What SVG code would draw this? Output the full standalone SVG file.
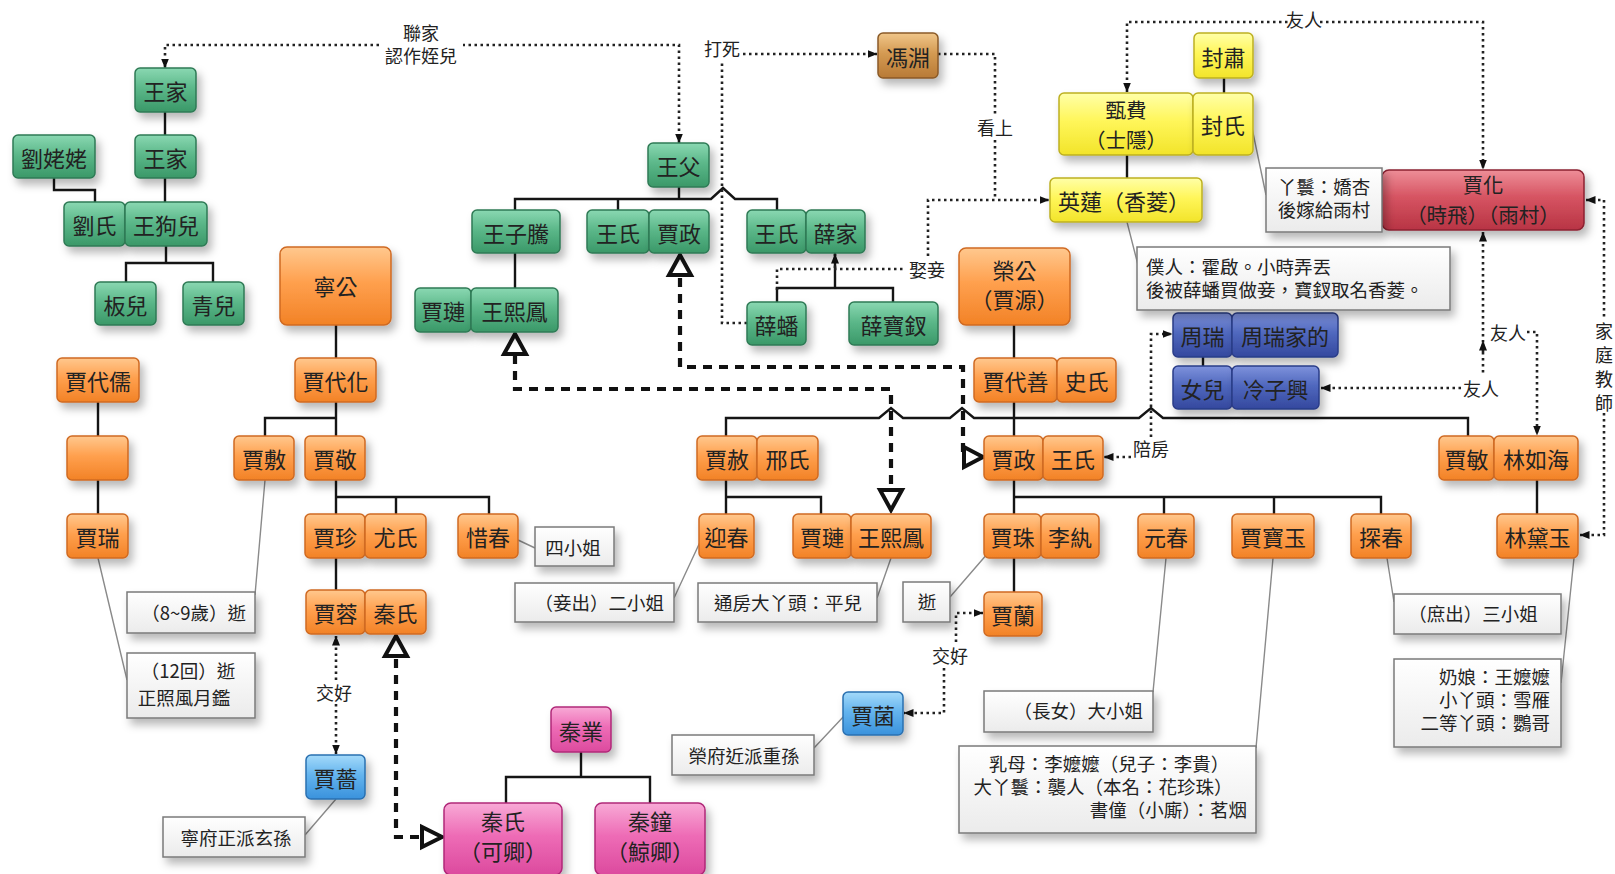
<svg xmlns="http://www.w3.org/2000/svg" width="1615" height="874" viewBox="0 0 1615 874">
<style>
text{font-family:"Noto Sans CJK TC","Noto Sans CJK SC",sans-serif;fill:#222;text-anchor:middle;dominant-baseline:central}
.nd rect{stroke-width:1.5;filter:url(#sh)}
.nd text{font-size:22px}
.g rect{fill:url(#gG);stroke:#2f7a55}
.o rect{fill:url(#gO);stroke:#cf6a22}
.y rect{fill:url(#gY);stroke:#bdb022}
.b rect{fill:url(#gB);stroke:#2a3c88}
.l rect{fill:url(#gL);stroke:#2a70b0}
.p rect{fill:url(#gP);stroke:#b02878}
.r rect{fill:url(#gR);stroke:#8c2030}
.w rect{fill:url(#gN);stroke:#8a5a28}
.nt rect{fill:url(#gW);stroke:#7a7a7a;stroke-width:1.5;filter:url(#sh)}
.nt text{font-size:18.5px}
.sl{fill:none;stroke:#151515;stroke-width:2.4}
.dt{fill:none;stroke:#222;stroke-width:2.6;stroke-dasharray:2.5 3.5}
.tk{fill:none;stroke:#111;stroke-width:4.2;stroke-dasharray:9 7}
.tri{fill:#fff;stroke:#111;stroke-width:4}
.cn{fill:none;stroke:#8a8a8a;stroke-width:1.4}
.lb{font-size:18px}
.nd text.s{font-size:20.5px}
</style>
<defs>
<filter id="sh" x="-20%" y="-20%" width="150%" height="170%"><feDropShadow dx="4" dy="6" stdDeviation="4" flood-color="#000" flood-opacity="0.28"/></filter>
<linearGradient id="gG" x1="0" y1="0" x2="0" y2="1"><stop offset="0" stop-color="#8ad8b2"/><stop offset="0.45" stop-color="#5cb88a"/><stop offset="1" stop-color="#3a9868"/></linearGradient>
<linearGradient id="gO" x1="0" y1="0" x2="0" y2="1"><stop offset="0" stop-color="#ffc88e"/><stop offset="0.45" stop-color="#ffa04e"/><stop offset="1" stop-color="#f28226"/></linearGradient>
<linearGradient id="gY" x1="0" y1="0" x2="0" y2="1"><stop offset="0" stop-color="#ffffa8"/><stop offset="0.45" stop-color="#fff65a"/><stop offset="1" stop-color="#f2e42a"/></linearGradient>
<linearGradient id="gB" x1="0" y1="0" x2="0" y2="1"><stop offset="0" stop-color="#7e92dc"/><stop offset="0.45" stop-color="#5068be"/><stop offset="1" stop-color="#34489e"/></linearGradient>
<linearGradient id="gL" x1="0" y1="0" x2="0" y2="1"><stop offset="0" stop-color="#a4dafa"/><stop offset="0.45" stop-color="#64b4ee"/><stop offset="1" stop-color="#3a92dc"/></linearGradient>
<linearGradient id="gP" x1="0" y1="0" x2="0" y2="1"><stop offset="0" stop-color="#f8aad6"/><stop offset="0.45" stop-color="#ee6cb6"/><stop offset="1" stop-color="#dc4a9e"/></linearGradient>
<linearGradient id="gR" x1="0" y1="0" x2="0" y2="1"><stop offset="0" stop-color="#ee8e98"/><stop offset="0.45" stop-color="#d65462"/><stop offset="1" stop-color="#b83444"/></linearGradient>
<linearGradient id="gN" x1="0" y1="0" x2="0" y2="1"><stop offset="0" stop-color="#f0c68a"/><stop offset="0.45" stop-color="#d49a52"/><stop offset="1" stop-color="#b87a36"/></linearGradient>
<linearGradient id="gW" x1="0" y1="0" x2="0" y2="1"><stop offset="0" stop-color="#ffffff"/><stop offset="1" stop-color="#ebebeb"/></linearGradient>
<marker id="ah" viewBox="0 0 10 10" refX="9.5" refY="5" markerWidth="10" markerHeight="10" markerUnits="userSpaceOnUse" orient="auto-start-reverse"><path d="M0,1 L10,5 L0,9 z" fill="#111"/></marker>
</defs>
<rect width="1615" height="874" fill="#fff"/>

<g id="connectors">
<!-- solid family lines -->
<path class="sl" d="M165,112 V135 M165,178 V202 M54,178 V190 H95 V202 M166,246 V263 M126,282 V263 H213 V282"/>
<path class="sl" d="M679,187 V199 M515,210 V199 H711 L723,188 L735,199 H777 V210 M618,199 V210"/>
<path class="sl" d="M515,253 V288 M835,253 V288 M777,302 V288 H893 V302"/>
<path class="sl" d="M1127,155 V178 M1224,78 V93"/>
<path class="sl" d="M336,325 V358 M336,402 V436 M265,436 V418 H336 M98,402 V436 M98,480 V514"/>
<path class="sl" d="M336,480 V514 M336,497 H489 V514 M396,497 V514 M336,558 V590"/>
<path class="sl" d="M1014,325 V358 M1014,402 V436 M726,436 V418 H879 L891,408 L903,418 H950 L962,408 L974,418 H1139 L1151,408 L1163,418 H1468 V436"/>
<path class="sl" d="M726,480 V514 M726,497 H821 V514"/>
<path class="sl" d="M1014,480 V514 M1014,497 H1381 V514 M1164,497 V514 M1274,497 V514 M1014,558 V592"/>
<path class="sl" d="M1537,480 V514 M1203,357 V366"/>
<path class="sl" d="M581,752 V777 M506,803 V777 H650 V803"/>
<!-- note connectors -->
<path class="cn" d="M265,480 L255,595 M98,558 L127,680 M518,540 L535,548 M701,540 L674,598 M891,558 L877,598 M988,553 L950,597 M336,799 L305,835 M845,715 L814,748 M1166,558 L1153,692 M1273,558 L1256,748 M1387,558 L1394,602 M1574,558 L1561,683 M1252,128 L1266,195 M1127,222 L1138,265"/>
<!-- dotted relations -->
<path class="dt" d="M679,143 V45 H463" marker-start="url(#ah)"/>
<path class="dt" d="M379,45 H165 V68" marker-end="url(#ah)"/>
<path class="dt" d="M747,323 H722 V60"/>
<path class="dt" d="M743,54 H877" marker-end="url(#ah)"/>
<path class="dt" d="M938,54 H995 V114 M995,140 V200"/>
<path class="dt" d="M928,256 V200 H1049" marker-end="url(#ah)"/>
<path class="dt" d="M777,290 V269 H906"/>
<path class="dt" d="M835,268 V254" marker-end="url(#ah)"/>
<path class="dt" d="M1127,92 V22 H1288" marker-start="url(#ah)"/>
<path class="dt" d="M1320,22 H1483 V169" marker-end="url(#ah)"/>
<path class="dt" d="M1483,232 V374" marker-start="url(#ah)"/>
<path class="dt" d="M1461,388 H1321" marker-end="url(#ah)"/>
<path class="dt" d="M1483,352 V341" marker-end="url(#ah)"/>
<path class="dt" d="M1527,332 H1537 V435" marker-end="url(#ah)"/>
<path class="dt" d="M1586,200 H1604 V318" marker-start="url(#ah)"/>
<path class="dt" d="M1604,413 V535 H1580" marker-end="url(#ah)"/>
<path class="dt" d="M1151,437 V334 H1172" marker-end="url(#ah)"/>
<path class="dt" d="M1131,457 H1104" marker-end="url(#ah)"/>
<path class="dt" d="M336,680 V636" marker-end="url(#ah)"/>
<path class="dt" d="M336,704 V754" marker-end="url(#ah)"/>
<path class="dt" d="M956,642 V613 H983" marker-end="url(#ah)"/>
<path class="dt" d="M944,668 V713 H904" marker-end="url(#ah)"/>
<!-- thick dashed -->
<path class="tk" d="M515,355 V389 H891 V489"/>
<path class="tk" d="M680,278 V367 H963 V457"/>
<path class="tk" d="M396,659 V837 H421"/>
<polygon class="tri" points="515,334 504,354 526,354"/>
<polygon class="tri" points="880,490 902,490 891,510"/>
<polygon class="tri" points="680,255 669,275 691,275"/>
<polygon class="tri" points="964,447 964,467 983,457"/>
<polygon class="tri" points="396,636 385,656 407,656"/>
<polygon class="tri" points="422,827 422,847 442,837"/>
<!-- labels -->
<text class="lb" x="421" y="32">聯家</text>
<text class="lb" x="421" y="55">認作姪兒</text>
<text class="lb" x="722" y="48">打死</text>
<text class="lb" x="995" y="127">看上</text>
<text class="lb" x="927" y="269">娶妾</text>
<text class="lb" x="1304" y="19">友人</text>
<text class="lb" x="1481" y="388">友人</text>
<text class="lb" x="1508" y="332">友人</text>
<text class="lb" x="1151" y="448">陪房</text>
<text class="lb" x="334" y="692">交好</text>
<text class="lb" x="950" y="655">交好</text>
<text class="lb" x="1604" y="330">家</text>
<text class="lb" x="1604" y="354">庭</text>
<text class="lb" x="1604" y="378">教</text>
<text class="lb" x="1604" y="402">師</text>
</g>

<!-- green: 王家 / 薛家 -->
<g id="n-wangjia1" class="nd g"><rect x="135" y="68" width="61" height="44" rx="5"/><text x="165.5" y="90">王家</text></g>
<g id="n-wangjia2" class="nd g"><rect x="135" y="135" width="61" height="43" rx="5"/><text x="165.5" y="156.5">王家</text></g>
<g id="n-liulaolao" class="nd g"><rect x="13" y="135" width="82" height="43" rx="5"/><text x="54" y="156.5">劉姥姥</text></g>
<g id="n-liushi" class="nd g"><rect x="64" y="202" width="61" height="44" rx="5"/><text x="94.5" y="224">劉氏</text></g>
<g id="n-wanggouer" class="nd g"><rect x="125" y="202" width="82" height="44" rx="5"/><text x="166" y="224">王狗兒</text></g>
<g id="n-baner" class="nd g"><rect x="95" y="282" width="61" height="43" rx="5"/><text x="125.5" y="303.5">板兒</text></g>
<g id="n-qinger" class="nd g"><rect x="183" y="282" width="61" height="43" rx="5"/><text x="213.5" y="303.5">青兒</text></g>
<g id="n-wangfu" class="nd g"><rect x="648" y="143" width="61" height="44" rx="5"/><text x="678.5" y="165">王父</text></g>
<g id="n-wangziteng" class="nd g"><rect x="472" y="210" width="88" height="43" rx="5"/><text x="516" y="231.5">王子騰</text></g>
<g id="n-wangshi-g1" class="nd g"><rect x="587" y="210" width="62" height="43" rx="5"/><text x="618" y="231.5">王氏</text></g>
<g id="n-jiazheng-g" class="nd g"><rect x="649" y="210" width="60" height="43" rx="5"/><text x="679" y="231.5">賈政</text></g>
<g id="n-wangshi-g2" class="nd g"><rect x="747" y="210" width="59" height="43" rx="5"/><text x="776.5" y="231.5">王氏</text></g>
<g id="n-xuejia" class="nd g"><rect x="806" y="210" width="59" height="43" rx="5"/><text x="835.5" y="231.5">薛家</text></g>
<g id="n-jialian-g" class="nd g"><rect x="415" y="288" width="56" height="44" rx="5"/><text x="443" y="310">賈璉</text></g>
<g id="n-wangxifeng-g" class="nd g"><rect x="471" y="288" width="87" height="44" rx="5"/><text x="514.5" y="310">王熙鳳</text></g>
<g id="n-xuepan" class="nd g"><rect x="747" y="302" width="59" height="43" rx="5"/><text x="776.5" y="323.5">薛蟠</text></g>
<g id="n-xuebaochai" class="nd g"><rect x="849" y="302" width="89" height="43" rx="5"/><text x="893.5" y="323.5">薛寶釵</text></g>

<!-- brown -->
<g id="n-fengyuan" class="nd w"><rect x="878" y="33" width="60" height="45" rx="5"/><text x="908" y="55.5">馮淵</text></g>

<!-- yellow -->
<g id="n-fengsu" class="nd y"><rect x="1194" y="33" width="59" height="45" rx="5"/><text x="1223.5" y="55.5">封肅</text></g>
<g id="n-zhenfei" class="nd y"><rect x="1059" y="93" width="134" height="62" rx="5"/><text class="s" x="1126" y="109">甄費</text><text class="s" x="1126" y="139">（士隱）</text></g>
<g id="n-fengshi" class="nd y"><rect x="1193" y="93" width="60" height="62" rx="5"/><text x="1223" y="124">封氏</text></g>
<g id="n-yinglian" class="nd y"><rect x="1050" y="178" width="152" height="44" rx="5"/><text x="1124" y="200">英蓮（香菱）</text></g>

<!-- red -->
<g id="n-jiahua" class="nd r"><rect x="1382" y="170" width="202" height="60" rx="7"/><text class="s" x="1483" y="184" fill="#3a1212">賈化</text><text class="s" x="1483" y="214" fill="#3a1212">（時飛）（雨村）</text></g>

<!-- orange: 寧府 -->
<g id="n-ninggong" class="nd o"><rect x="280" y="247" width="111" height="78" rx="7"/><text x="335.5" y="285">寧公</text></g>
<g id="n-jiadairu" class="nd o"><rect x="57" y="358" width="82" height="44" rx="5"/><text x="98" y="380">賈代儒</text></g>
<g id="n-blank" class="nd o"><rect x="67" y="436" width="61" height="44" rx="5"/></g>
<g id="n-jiarui" class="nd o"><rect x="67" y="514" width="61" height="44" rx="5"/><text x="97.5" y="536">賈瑞</text></g>
<g id="n-jiadaihua" class="nd o"><rect x="295" y="358" width="81" height="44" rx="5"/><text x="335.5" y="380">賈代化</text></g>
<g id="n-jiafu" class="nd o"><rect x="234" y="436" width="60" height="44" rx="5"/><text x="264" y="458">賈敷</text></g>
<g id="n-jiajing" class="nd o"><rect x="305" y="436" width="60" height="44" rx="5"/><text x="335" y="458">賈敬</text></g>
<g id="n-jiazhen" class="nd o"><rect x="305" y="514" width="60" height="44" rx="5"/><text x="335" y="536">賈珍</text></g>
<g id="n-youshi" class="nd o"><rect x="365" y="514" width="61" height="44" rx="5"/><text x="395.5" y="536">尤氏</text></g>
<g id="n-xichun" class="nd o"><rect x="458" y="514" width="60" height="44" rx="5"/><text x="488" y="536">惜春</text></g>
<g id="n-jiarong" class="nd o"><rect x="306" y="590" width="59" height="44" rx="5"/><text x="335.5" y="612">賈蓉</text></g>
<g id="n-qinshi-o" class="nd o"><rect x="365" y="590" width="61" height="44" rx="5"/><text x="395.5" y="612">秦氏</text></g>

<!-- orange: 榮府 -->
<g id="n-ronggong" class="nd o"><rect x="959" y="248" width="111" height="77" rx="7"/><text x="1014.5" y="269">榮公</text><text x="1014.5" y="298">（賈源）</text></g>
<g id="n-jiadaishan" class="nd o"><rect x="974" y="358" width="83" height="44" rx="5"/><text x="1015.5" y="380">賈代善</text></g>
<g id="n-shishi" class="nd o"><rect x="1057" y="358" width="59" height="44" rx="5"/><text x="1086.5" y="380">史氏</text></g>
<g id="n-jiashe" class="nd o"><rect x="697" y="436" width="60" height="44" rx="5"/><text x="727" y="458">賈赦</text></g>
<g id="n-xingshi" class="nd o"><rect x="757" y="436" width="61" height="44" rx="5"/><text x="787.5" y="458">邢氏</text></g>
<g id="n-jiazheng" class="nd o"><rect x="984" y="436" width="59" height="44" rx="5"/><text x="1013.5" y="458">賈政</text></g>
<g id="n-wangshi" class="nd o"><rect x="1043" y="436" width="60" height="44" rx="5"/><text x="1073" y="458">王氏</text></g>
<g id="n-jiamin" class="nd o"><rect x="1439" y="436" width="55" height="44" rx="5"/><text x="1466.5" y="458">賈敏</text></g>
<g id="n-linruhai" class="nd o"><rect x="1494" y="436" width="84" height="44" rx="5"/><text x="1536" y="458">林如海</text></g>
<g id="n-yingchun" class="nd o"><rect x="699" y="514" width="55" height="44" rx="5"/><text x="726.5" y="536">迎春</text></g>
<g id="n-jialian" class="nd o"><rect x="793" y="514" width="58" height="44" rx="5"/><text x="822" y="536">賈璉</text></g>
<g id="n-wangxifeng" class="nd o"><rect x="851" y="514" width="80" height="44" rx="5"/><text x="891" y="536">王熙鳳</text></g>
<g id="n-jiazhu" class="nd o"><rect x="984" y="514" width="57" height="44" rx="5"/><text x="1012.5" y="536">賈珠</text></g>
<g id="n-liwan" class="nd o"><rect x="1041" y="514" width="58" height="44" rx="5"/><text x="1070" y="536">李紈</text></g>
<g id="n-yuanchun" class="nd o"><rect x="1138" y="514" width="56" height="44" rx="5"/><text x="1166" y="536">元春</text></g>
<g id="n-jiabaoyu" class="nd o"><rect x="1232" y="514" width="82" height="44" rx="5"/><text x="1273" y="536">賈寶玉</text></g>
<g id="n-tanchun" class="nd o"><rect x="1351" y="514" width="60" height="44" rx="5"/><text x="1381" y="536">探春</text></g>
<g id="n-lindaiyu" class="nd o"><rect x="1497" y="514" width="81" height="44" rx="5"/><text x="1537.5" y="536">林黛玉</text></g>
<g id="n-jialan" class="nd o"><rect x="984" y="592" width="58" height="44" rx="5"/><text x="1013" y="614">賈蘭</text></g>

<!-- blue -->
<g id="n-zhourui" class="nd b"><rect x="1173" y="313" width="59" height="44" rx="5"/><text x="1202.5" y="335" fill="#1c2450">周瑞</text></g>
<g id="n-zhouruijia" class="nd b"><rect x="1232" y="313" width="106" height="44" rx="5"/><text x="1285" y="335" fill="#1c2450">周瑞家的</text></g>
<g id="n-nver" class="nd b"><rect x="1173" y="366" width="59" height="43" rx="5"/><text x="1202.5" y="387.5" fill="#1c2450">女兒</text></g>
<g id="n-lengzixing" class="nd b"><rect x="1232" y="366" width="87" height="43" rx="5"/><text x="1275.5" y="387.5" fill="#1c2450">冷子興</text></g>

<!-- light blue -->
<g id="n-jiaqiang" class="nd l"><rect x="306" y="755" width="59" height="44" rx="5"/><text x="335.5" y="777" fill="#14304a">賈薔</text></g>
<g id="n-jiajun" class="nd l"><rect x="843" y="692" width="60" height="43" rx="5"/><text x="873" y="713.5" fill="#14304a">賈菌</text></g>

<!-- pink -->
<g id="n-qinye" class="nd p"><rect x="551" y="707" width="60" height="45" rx="5"/><text x="581" y="729.5">秦業</text></g>
<g id="n-qinshi-p" class="nd p"><rect x="444" y="803" width="118" height="72" rx="7"/><text x="503" y="820">秦氏</text><text x="503" y="850">（可卿）</text></g>
<g id="n-qinzhong" class="nd p"><rect x="595" y="803" width="110" height="72" rx="7"/><text x="650" y="820">秦鐘</text><text x="650" y="850">（鯨卿）</text></g>

<!-- notes -->
<g id="note-sixiaojie" class="nt"><rect x="535" y="527" width="79" height="39"/><text x="573" y="547">四小姐</text></g>
<g id="note-jiafu" class="nt"><rect x="127" y="592" width="128" height="41"/><text x="246" y="612" style="text-anchor:end">（8~9歲）逝</text></g>
<g id="note-jiarui" class="nt"><rect x="127" y="653" width="128" height="65"/><text x="188" y="670">（12回）逝</text><text x="184" y="697">正照風月鑑</text></g>
<g id="note-yingchun" class="nt"><rect x="515" y="583" width="159" height="39"/><text x="664" y="602" style="text-anchor:end">（妾出）二小姐</text></g>
<g id="note-pinger" class="nt"><rect x="698" y="583" width="179" height="39"/><text x="788" y="602">通房大丫頭：平兒</text></g>
<g id="note-jiazhu" class="nt"><rect x="903" y="582" width="47" height="40"/><text x="927" y="601">逝</text></g>
<g id="note-jiaqiang" class="nt"><rect x="163" y="817" width="142" height="40"/><text x="236" y="837">寧府正派玄孫</text></g>
<g id="note-jiajun" class="nt"><rect x="672" y="735" width="142" height="40"/><text x="744" y="755">榮府近派重孫</text></g>
<g id="note-yuanchun" class="nt"><rect x="984" y="691" width="169" height="41"/><text x="1143" y="710" style="text-anchor:end">（長女）大小姐</text></g>
<g id="note-baoyu" class="nt"><rect x="959" y="746" width="297" height="87"/><text x="1109" y="763">乳母：李嬤嬤（兒子：李貴）</text><text x="1103" y="786">大丫鬟：襲人（本名：花珍珠）</text><text x="1247" y="809" style="text-anchor:end">書僮（小廝）：茗烟</text></g>
<g id="note-tanchun" class="nt"><rect x="1394" y="594" width="167" height="40"/><text x="1473" y="613">（庶出）三小姐</text></g>
<g id="note-daiyu" class="nt"><rect x="1394" y="659" width="167" height="88"/><text x="1550" y="676" style="text-anchor:end">奶娘：王嬤嬤</text><text x="1550" y="699" style="text-anchor:end">小丫頭：雪雁</text><text x="1550" y="722" style="text-anchor:end">二等丫頭：鸚哥</text></g>
<g id="note-fengshi" class="nt"><rect x="1266" y="168" width="116" height="64"/><text x="1324" y="186">丫鬟：嬌杏</text><text x="1324" y="209">後嫁給雨村</text></g>
<g id="note-yinglian" class="nt"><rect x="1137" y="247" width="313" height="63"/><text x="1146" y="266" style="text-anchor:start">僕人：霍啟。小時弄丟</text><text x="1146" y="289" style="text-anchor:start">後被薛蟠買做妾，寶釵取名香菱。</text></g>
</svg>
